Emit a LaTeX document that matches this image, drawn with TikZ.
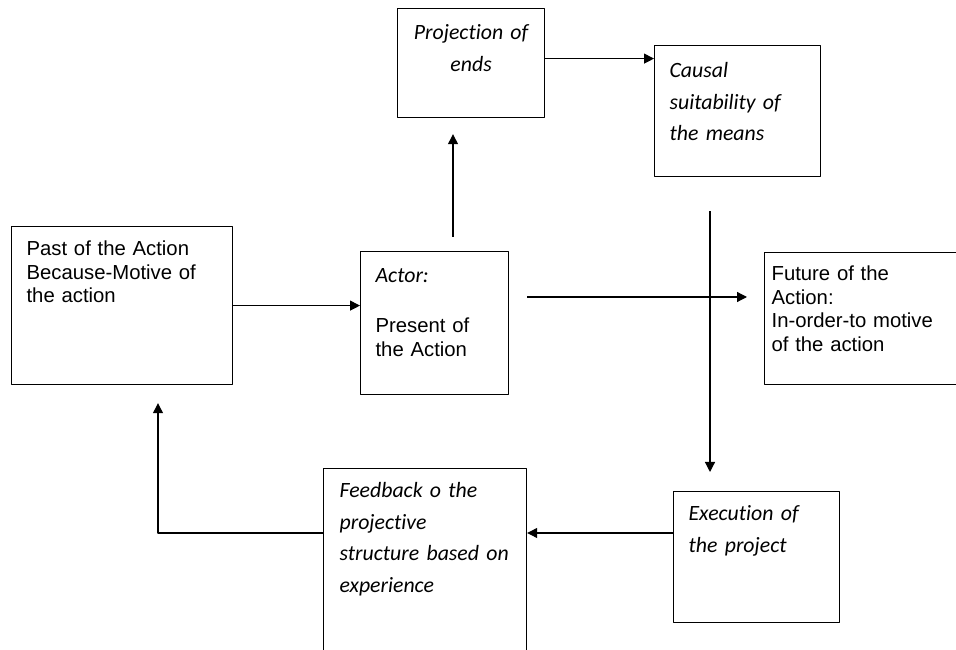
\documentclass[tikz,border=0pt]{standalone}
\usepackage{fontspec}
\usetikzlibrary{arrows.meta}
\newfontfamily\arialfont{Liberation Sans}
\newfontfamily\califont[Ligatures=CommonOff]{Carlito}
\newcommand{\sansfnt}{\arialfont\fontsize{20.3bp}{23.5bp}\selectfont}
\newcommand{\itfnt}{\califont\itshape\fontsize{21.8bp}{31.5bp}\selectfont}
\begin{document}
\begin{tikzpicture}[>={Triangle[length=10bp,width=10bp]},line join=bevel,line width=1.2bp,
  blk/.style={draw,rectangle,anchor=north west,inner ysep=0bp,inner xsep=15bp,align=left},
  sansblk/.style={blk,font=\sansfnt},
  itblk/.style={blk,font=\itfnt},
]
\useasboundingbox (0bp,0bp) rectangle (956bp,650bp);
%%
\node (proj) at (397bp,642bp) [itblk,align=center,text width=117bp,text height=31bp,text depth=78bp] {Projection of\\ ends};
  \node (causal) at (654bp,605bp) [itblk,text width=136bp,text height=32bp,text depth=99bp] {Causal\\ suitability of\\ the means};
  \node (past) at (11bp,424bp) [sansblk,text width=191bp,text height=29bp,text depth=129bp] {Past of the Action\\ Because-Motive of\\ the action};
  \node (actor) at (360bp,399bp) [sansblk,text width=118bp,text height=31bp,text depth=112bp] {{\itfnt Actor:}\\[26.5bp] Present of\\ the Action};
  \node (future) at (764bp,398bp) [sansblk,inner xsep=7bp,text width=196bp,text height=28bp,text depth=104bp] {Future of the\\ Action:\\ In-order-to motive\\ of the action};
  \node (exec) at (673bp,159bp) [itblk,text width=136bp,text height=29bp,text depth=102bp] {Execution of\\ the project};
  \node (fb) at (323bp,182bp) [itblk,inner xsep=16bp,text width=171bp,text height=29bp,text depth=171bp] {Feedback o the\\ projective\\ \mbox{structure based on}\\ experience};
%
  \coordinate (upx) at (453bp,0bp);
  \coordinate (downx) at (710bp,0bp);
  \coordinate (backx) at (158bp,0bp);
  \coordinate (fwdy) at (0bp,353bp);
  \coordinate (backy) at (0bp,117bp);
  \draw [black,->] (past.east) -- (past.east -| actor.west);
  \draw [black,->,shorten <=14bp,shorten >=16bp] (actor.north -| upx) -- (proj.south -| upx);
  \draw [black,->] ([yshift=4.5bp]proj.east) -- ([yshift=4.5bp]proj.east -| causal.west);
  \draw [black,->,shorten <=34bp,shorten >=19bp] (causal.south -| downx) -- (exec.north -| downx);
  \draw [black,->,shorten <=18bp,shorten >=17bp] (actor.east |- fwdy) -- (future.west |- fwdy);
  \draw [black,->] (exec.west |- backy) -- (fb.east |- backy);
  \draw [black,->,shorten >=18bp] (fb.west |- backy) -| (past.south -| backx);
%
\end{tikzpicture}
\end{document}
